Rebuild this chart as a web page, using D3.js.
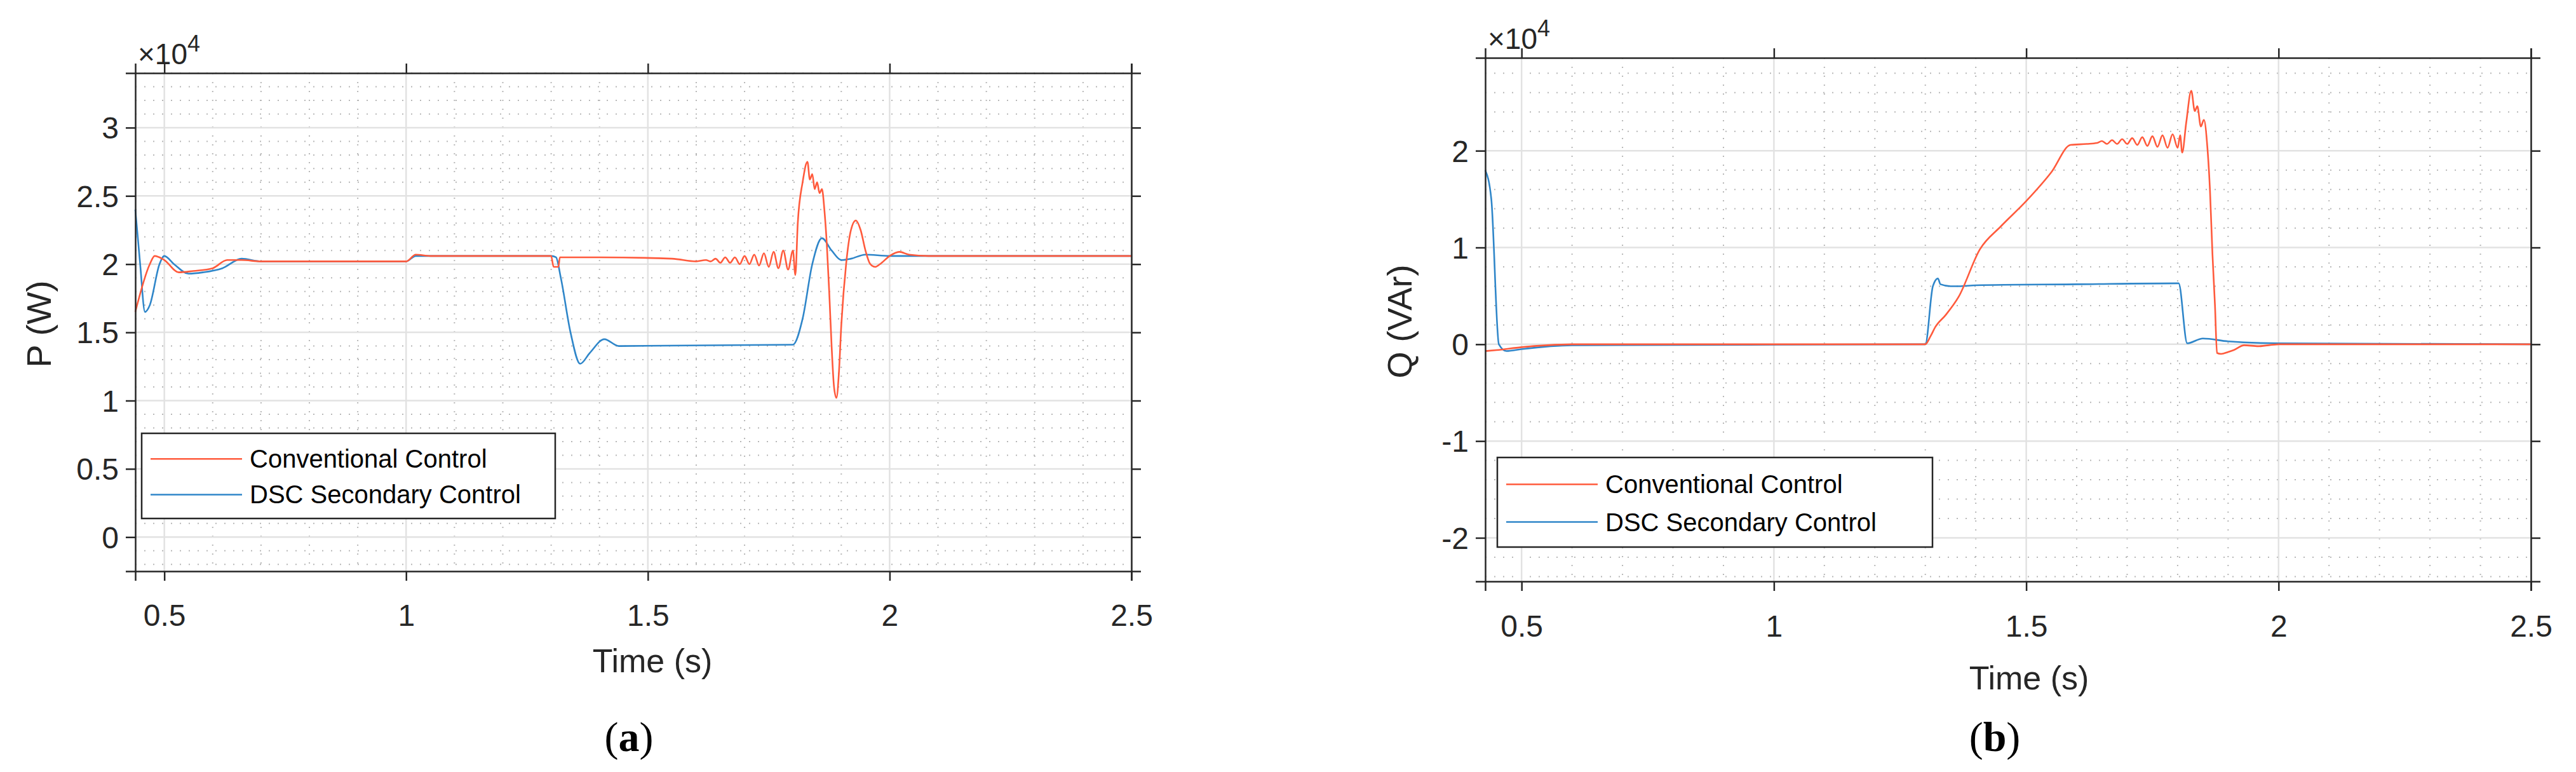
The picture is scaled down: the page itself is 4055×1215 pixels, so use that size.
<!DOCTYPE html>
<html><head><meta charset="utf-8">
<script src="https://cdn.jsdelivr.net/npm/d3@7"></script>
<style>body{margin:0;background:#fff}svg{display:block}</style></head>
<body><svg id="c" width="4055" height="1215"></svg>
<script>
// Panel (a): P (x1e4 W)
const pConvT = [0.44,0.47,0.48,0.50,0.53,0.56,0.60,0.63,0.66,0.70,1.00,1.02,1.05,1.30,1.305,1.315,1.318,1.40,1.55,1.60,1.62,1.63,1.64,1.65,1.66,1.67,1.68,1.69,1.70,1.71,1.72,1.73,1.74,1.75,1.76,1.77,1.78,1.79,1.80,1.805,1.81,1.82,1.83,1.835,1.84,1.845,1.85,1.855,1.86,1.865,1.87,1.875,1.88,1.885,1.89,1.895,1.90,1.91,1.92,1.93,1.94,1.95,1.96,1.97,1.98,2.00,2.02,2.04,2.08,2.5];
const pConvV = [1.65,2.00,2.06,2.03,1.94,1.95,1.97,2.03,2.03,2.02,2.02,2.07,2.06,2.06,1.98,1.98,2.05,2.05,2.04,2.02,2.03,2.02,2.04,2.01,2.05,2.01,2.05,2.00,2.06,2.00,2.07,1.99,2.08,1.98,2.09,1.97,2.10,1.96,2.10,1.92,2.30,2.60,2.75,2.62,2.66,2.55,2.60,2.52,2.55,2.40,2.15,1.80,1.40,1.10,1.02,1.20,1.55,2.00,2.25,2.32,2.25,2.10,2.00,1.98,2.00,2.06,2.09,2.07,2.06,2.06];
const pDscT = [0.44,0.45,0.46,0.47,0.49,0.50,0.52,0.55,0.58,0.62,0.66,0.70,1.00,1.02,1.30,1.31,1.32,1.34,1.36,1.38,1.41,1.44,1.80,1.82,1.84,1.86,1.88,1.90,1.92,1.95,2.00,2.5];
const pDscV = [2.40,2.00,1.65,1.70,2.00,2.06,2.00,1.93,1.94,1.97,2.04,2.02,2.02,2.06,2.06,2.05,1.90,1.50,1.27,1.35,1.45,1.40,1.41,1.60,2.00,2.19,2.10,2.03,2.04,2.07,2.06,2.06];
const pYTicks = [0,0.5,1,1.5,2,2.5,3];
// Panel (b): Q (x1e4 VAr)
const qConvT = [0.428,0.45,0.50,0.55,0.60,1.30,1.31,1.32,1.34,1.366,1.408,1.45,1.50,1.55,1.588,1.62,1.64,1.65,1.66,1.67,1.68,1.69,1.70,1.71,1.72,1.73,1.74,1.75,1.76,1.77,1.78,1.79,1.80,1.805,1.809,1.817,1.827,1.834,1.839,1.846,1.852,1.859,1.864,1.869,1.874,1.878,1.886,1.90,1.911,1.932,1.96,2.0,2.5];
const qConvV = [-0.07,-0.06,-0.03,-0.01,0.0,0.0,0.08,0.18,0.30,0.49,0.98,1.22,1.48,1.78,2.06,2.07,2.08,2.10,2.07,2.11,2.07,2.12,2.07,2.13,2.06,2.14,2.05,2.15,2.04,2.16,2.03,2.17,2.03,2.16,1.98,2.29,2.62,2.41,2.46,2.25,2.32,2.03,1.60,0.93,0.40,-0.09,-0.10,-0.08,-0.06,-0.01,-0.02,0.0,0.0];
const qDscT = [0.428,0.44,0.455,0.47,0.50,0.60,1.30,1.315,1.325,1.33,1.35,1.366,1.40,1.60,1.802,1.819,1.85,1.90,2.0,2.5];
const qDscV = [1.80,1.50,0.0,-0.07,-0.05,-0.01,0.0,0.60,0.68,0.62,0.60,0.60,0.61,0.62,0.63,0.01,0.06,0.03,0.01,0.0];
const qYTicks = [-2,-1,0,1,2];
const xTicks = [0.5,1,1.5,2,2.5];
const seriesNames = ["Conventional Control","DSC Secondary Control"];
const colors = ["#ff5a3c","#2f86c9"];

const svg = d3.select("#c");
const FONT = "'Liberation Sans', Arial, sans-serif";
const fmt = d => d3.format("~g")(d).replace("−","-");

function panel(o){
  const x = d3.scaleLinear().domain(o.xd).range([o.L,o.R]);
  const y = d3.scaleLinear().domain(o.yd).range([o.B,o.T]);
  const g = svg.append("g");
  const xm = d3.range(Math.ceil(o.xd[0]*10), 26).map(d=>d/10).filter(v=>Math.abs(v*2-Math.round(v*2))>1e-6);
  g.selectAll(".xm").data(xm).join("line").attr("x1",x).attr("x2",x).attr("y1",o.T).attr("y2",o.B)
    .attr("stroke","#b8b8b8").attr("stroke-width",2).attr("stroke-dasharray","2,12");
  const ym = d3.range(Math.ceil(o.yd[0]/o.ymin-1e-6), Math.floor(o.yd[1]/o.ymin+1e-6)+1).map(d=>d*o.ymin)
     .filter(v=>!o.yt.some(t=>Math.abs(t-v)<1e-6));
  g.selectAll(".ym").data(ym).join("line").attr("x1",o.L).attr("x2",o.R).attr("y1",y).attr("y2",y)
    .attr("stroke","#b8b8b8").attr("stroke-width",2).attr("stroke-dasharray","2,12");
  g.selectAll(".xg").data(xTicks).join("line").attr("x1",x).attr("x2",x).attr("y1",o.T).attr("y2",o.B)
    .attr("stroke","#e2e2e2").attr("stroke-width",2.5);
  g.selectAll(".yg").data(o.yt).join("line").attr("x1",o.L).attr("x2",o.R).attr("y1",y).attr("y2",y)
    .attr("stroke","#e2e2e2").attr("stroke-width",2.5);
  const ln = d3.line().x(d=>x(d[0])).y(d=>y(d[1])).curve(d3.curveMonotoneX);
  [[o.t2,o.v2,1],[o.t1,o.v1,0]].forEach(([t,v,i])=>{
    g.append("path").attr("d",ln(t.map((tt,k)=>[tt,v[k]]))).attr("fill","none")
     .attr("stroke",colors[i]).attr("stroke-width",2.6);
  });
  const gx = g.append("g").attr("transform",`translate(0,${o.B})`).call(d3.axisBottom(x).tickValues(xTicks).tickSize(15).tickFormat(fmt));
  g.append("g").attr("transform",`translate(0,${o.T})`).call(d3.axisTop(x).tickValues(xTicks).tickSize(15).tickFormat(""));
  const gy = g.append("g").attr("transform",`translate(${o.L},0)`).call(d3.axisLeft(y).tickValues(o.yt).tickSize(15).tickFormat(fmt));
  g.append("g").attr("transform",`translate(${o.R},0)`).call(d3.axisRight(y).tickValues(o.yt).tickSize(15).tickFormat(""));
  g.selectAll(".domain").attr("stroke","#262626").attr("stroke-width",2.5);
  g.selectAll(".tick line").attr("stroke","#262626").attr("stroke-width",2.5);
  g.selectAll(".tick text").attr("font-family",FONT).attr("font-size",48).attr("fill","#262626");
  gx.selectAll(".tick text").attr("dy","0").attr("y",o.xLabY - o.B);
  gy.selectAll(".tick text").attr("x",-26).attr("dy","0.35em");
  const ex = g.append("text").attr("x",o.L+4).attr("y",o.T-14).attr("font-family",FONT).attr("font-size",46).attr("fill","#262626");
  ex.append("tspan").text("×10");
  ex.append("tspan").text("4").attr("dy",-20).attr("font-size",36);
  g.append("text").attr("x",o.xtX).attr("y",o.xtY).attr("text-anchor","middle").attr("font-family",FONT).attr("font-size",52).attr("fill","#262626").text("Time (s)");
  g.append("text").attr("transform",`translate(${o.ylX},${o.ylY}) rotate(-90)`).attr("text-anchor","middle").attr("font-family",FONT).attr("font-size",54).attr("fill","#262626").text(o.ylab);
  g.append("rect").attr("x",o.lg[0]).attr("y",o.lg[1]).attr("width",o.lg[2]).attr("height",o.lg[3]).attr("fill","#fff").attr("stroke","#262626").attr("stroke-width",2.5);
  seriesNames.forEach((n,i)=>{
    const yy = o.lg[1]+o.lg[3]*(i===0?0.3:0.72);
    g.append("line").attr("x1",o.lg[0]+14).attr("x2",o.lg[0]+158).attr("y1",yy).attr("y2",yy).attr("stroke",colors[i]).attr("stroke-width",2.6);
    g.append("text").attr("x",o.lg[0]+170).attr("y",yy).attr("dy","0.35em").attr("font-family",FONT).attr("font-size",40).attr("fill","#000").text(n);
  });
  const s = g.append("text").attr("x",o.subX).attr("y",1182).attr("text-anchor","middle").attr("font-family","'Liberation Serif', 'Times New Roman', serif").attr("font-size",66).attr("fill","#000");
  s.append("tspan").text("(");
  s.append("tspan").attr("font-weight","bold").text(o.sub);
  s.append("tspan").text(")");
}

panel({L:213,R:1781,T:115,B:899,xd:[0.44,2.5],yd:[-0.25,3.4],yt:pYTicks,ymin:0.1,
  t1:pConvT,v1:pConvV,t2:pDscT,v2:pDscV,xLabY:985,xtX:1027,xtY:1058,ylX:80,ylY:510,ylab:"P (W)",
  lg:[223,682,651,134],subX:990,sub:"a"});
panel({L:2338,R:3984,T:91,B:915,xd:[0.428,2.5],yd:[-2.45,2.96],yt:qYTicks,ymin:0.2,
  t1:qConvT,v1:qConvV,t2:qDscT,v2:qDscV,xLabY:1002,xtX:3194,xtY:1085,ylX:2222,ylY:506,ylab:"Q (VAr)",
  lg:[2357,720,685,141],subX:3140,sub:"b"});
</script></body></html>
